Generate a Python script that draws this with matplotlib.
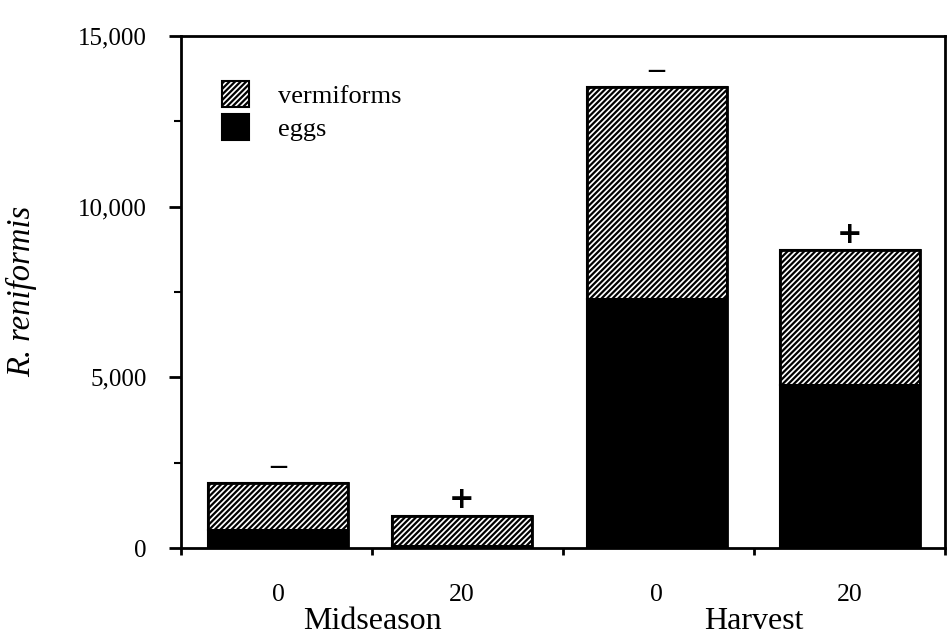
import matplotlib.pyplot as plt

plt.rcParams['font.family'] = ['Liberation Serif', 'DejaVu Serif']
plt.rcParams['hatch.linewidth'] = 1.6

# data
groups = ['Midseason', 'Harvest']
rates = ['0', '20', '0', '20']
eggs = [530, 60, 7300, 4770]
vermiforms = [1370, 880, 6200, 3950]
signs = ['\u2212', '+', '\u2212', '+']

fig = plt.figure(figsize=(9.48, 6.35), dpi=100)
ax = fig.add_axes([0.191, 0.137, 0.806, 0.806])

x = [0.51, 1.47, 2.49, 3.5]
w = 0.733
totals = [e + v for e, v in zip(eggs, vermiforms)]

ax.bar(x, eggs, width=w, color='black', edgecolor='black', linewidth=1.5, label='eggs')
ax.bar(x, vermiforms, width=w, bottom=eggs, color='white', edgecolor='black',
       hatch='//////', linewidth=1.5, label='vermiforms')
# outline of whole bar
ax.bar(x, totals, width=w, fill=False, edgecolor='black', linewidth=2)

for xi, t, s in zip(x, totals, signs):
    if s == '+':
        ax.text(xi, t + 480, s, ha='center', va='center', fontsize=22,
                fontweight='bold', family='DejaVu Sans')
    else:
        ax.text(xi, t + 440, s, ha='center', va='center', fontsize=19,
                family='DejaVu Sans')

ax.set_xlim(0, 4)
ax.set_ylim(0, 15000)
ax.set_yticks([0, 5000, 10000, 15000])
ax.set_yticklabels(['0', '5,000', '10,000', '15,000'])
ax.set_yticks([2500, 7500, 12500], minor=True)
ax.set_xticks([0, 1, 2, 3, 4])
ax.set_xticklabels([])
ax.tick_params(axis='y', which='major', direction='out', length=8.6, width=2, labelsize=18, pad=16)
ax.tick_params(axis='y', which='minor', direction='out', length=5, width=1.5)
ax.tick_params(axis='x', direction='out', length=5, width=2)
for sp in ax.spines.values():
    sp.set_linewidth(2)

for xi, r in zip(x, rates):
    ax.text(xi, -1370, r, ha='center', va='center', fontsize=18.5)
ax.text(1.0, -2150, groups[0], ha='center', va='center', fontsize=23)
ax.text(3.0, -2150, groups[1], ha='center', va='center', fontsize=23)

ax.set_ylabel('R. reniformis', fontsize=23.5, style='italic')
ax.yaxis.set_label_coords(-0.188, 0.502)

h, l = ax.get_legend_handles_labels()
ax.legend(h[::-1], l[::-1], loc='upper left', bbox_to_anchor=(0.054, 0.912),
          frameon=False, fontsize=19, handlelength=1.0, handleheight=1.1,
          handletextpad=1.1, labelspacing=0.25, borderpad=0, borderaxespad=0)

fig.savefig('out.png', dpi=100)
